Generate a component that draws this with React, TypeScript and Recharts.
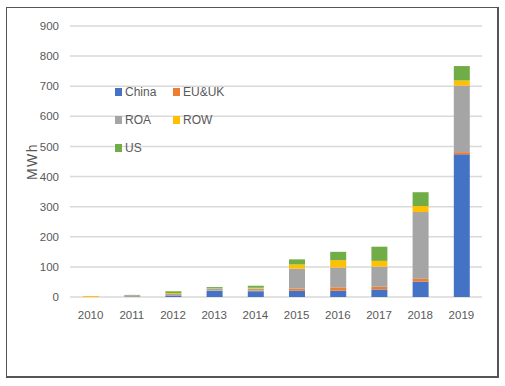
import { BarChart, Bar, XAxis, YAxis, CartesianGrid } from "recharts";

const years = ["2010", "2011", "2012", "2013", "2014", "2015", "2016", "2017", "2018", "2019"];
const china = [0, 0, 5, 20, 19, 21, 21, 25, 51, 474];
const euUk = [0, 0, 1, 1, 2, 7, 11, 9, 10, 7];
const roa = [0, 6, 4, 7, 6, 66, 66, 67, 221, 221];
const row = [3, 0, 3, 1, 4, 14, 24, 19, 20, 17];
const us = [0, 1, 6, 4, 6, 17, 28, 47, 46, 48];
const yTicks = [0, 100, 200, 300, 400, 500, 600, 700, 800, 900];

const series = [
  { key: "China", color: "#4472C4" },
  { key: "EU&UK", color: "#ED7D31" },
  { key: "ROA", color: "#A5A5A5" },
  { key: "ROW", color: "#FFC000" },
  { key: "US", color: "#70AD47" },
];

const data = years.map((y, i) => ({
  year: y,
  China: china[i],
  "EU&UK": euUk[i],
  ROA: roa[i],
  ROW: row[i],
  US: us[i],
}));

const FONT = "'Liberation Sans', Arial, sans-serif";

// legend sits inside the plot area, two columns like the Excel original
function LegendBox() {
  return (
    <div
      style={{
        position: "absolute",
        left: 115,
        top: 83,
        display: "grid",
        gridTemplateColumns: "58px 58px",
        rowGap: 11,
        fontFamily: FONT,
        fontSize: 12,
        color: "#595959",
      }}
    >
      {series.map((s) => (
        <div key={s.key} style={{ display: "flex", alignItems: "center", height: 17 }}>
          <span style={{ width: 7, height: 8, background: s.color, marginRight: 3, display: "inline-block" }} />
          {s.key}
        </div>
      ))}
    </div>
  );
}

export default function App() {
  return (
    <div style={{ position: "absolute", left: 0, top: 0, width: 505, height: 386, background: "#fff" }}>
      <div style={{ position: "absolute", left: 6, top: 7, width: 490, height: 368, border: "1px solid #555", borderRightWidth: 2, borderBottomWidth: 2 }} />
      <div style={{ position: "absolute", left: 0, top: 0 }}>
        <BarChart width={505} height={386} data={data} barSize={16} margin={{ top: 26, right: 23, bottom: 59, left: 0 }}>
          <CartesianGrid vertical={false} stroke="#d9d9d9" strokeWidth={1.5} />
          <XAxis
            dataKey="year"
            axisLine={false}
            tickLine={false}
            tickMargin={8}
            height={30}
            tick={{ fill: "#595959", fontSize: 11.5, fontFamily: FONT }}
            interval={0}
          />
          <YAxis
            width={70}
            domain={[0, 900]}
            ticks={yTicks}
            axisLine={false}
            tickLine={false}
            tickMargin={5}
            tick={{ fill: "#595959", fontSize: 11.5, fontFamily: FONT }}
            label={{
              value: "MWh",
              content: ({ viewBox }: any) => (
                <text
                  x={viewBox.x + 32}
                  y={viewBox.y + viewBox.height / 2}
                  transform={`rotate(-90 ${viewBox.x + 32} ${viewBox.y + viewBox.height / 2})`}
                  textAnchor="middle"
                  dominantBaseline="central"
                  fill="#595959"
                  fontSize={14}
                  letterSpacing={1.5}
                  fontFamily={FONT}
                >
                  MWh
                </text>
              ),
            }}
          />
          {series.map((s) => (
            <Bar key={s.key} dataKey={s.key} stackId="a" fill={s.color} isAnimationActive={false} />
          ))}
        </BarChart>
      </div>
      <LegendBox />
    </div>
  );
}
